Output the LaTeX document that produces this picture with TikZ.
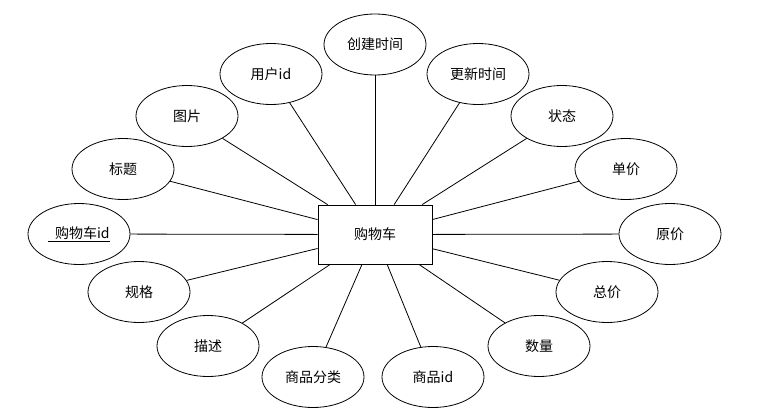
\documentclass[tikz,border=0pt]{standalone}
\usepackage{fontspec}
\newfontfamily\cjk{Noto Sans CJK SC}
\usetikzlibrary{shapes.geometric}

\tikzset{
  attr/.style={draw,ellipse,line width=0.6pt,minimum width=76.5pt,minimum height=45.75pt,inner sep=0pt,font=\cjk\fontsize{10.5}{12}\selectfont},
  entity/.style={draw,line width=0.6pt,minimum width=85.5pt,minimum height=44.25pt,inner sep=0pt,font=\cjk\fontsize{10.5}{12}\selectfont},
  link/.style={line width=0.6pt}
}

\begin{document}
\begin{tikzpicture}[x=0.75pt,y=-0.75pt]
  \useasboundingbox (0,0) rectangle (768,414);
  % entity
  \node[entity] (cart) at (375,234.5) {购物车};
  % attributes
  \node[attr] (ctime)  at (375,44.5) {创建时间};
  \node[attr] (uid)    at (271,74)   {用户id};
  \node[attr] (utime)  at (478,74)   {更新时间};
  \node[attr] (pic)    at (187,116)  {图片};
  \node[attr] (state)  at (562,116)  {状态};
  \node[attr] (title)  at (123,169)  {标题};
  \node[attr] (price)  at (626,169)  {单价};
  \node[attr] (cid)    at (79,234)   {\underline{\hspace{5pt}购物车id}};
  \node[attr] (oprice) at (670,234)  {原价};
  \node[attr] (spec)   at (139,292)  {规格};
  \node[attr] (total)  at (607,292)  {总价};
  \node[attr] (desc)   at (208,346)  {描述};
  \node[attr] (qty)    at (539,346)  {数量};
  \node[attr] (cat)    at (313,377)  {商品分类};
  \node[attr] (gid)    at (433,377)  {商品id};

  \path[link]
    (cart) edge (ctime)
           edge (uid)
           edge (utime)
           edge (pic)
           edge (state)
           edge (title)
           edge (price)
           edge (cid)
           edge (oprice)
           edge (spec)
           edge (total)
           edge (desc)
           edge (qty)
           edge (cat)
           edge (gid);
\end{tikzpicture}
\end{document}
